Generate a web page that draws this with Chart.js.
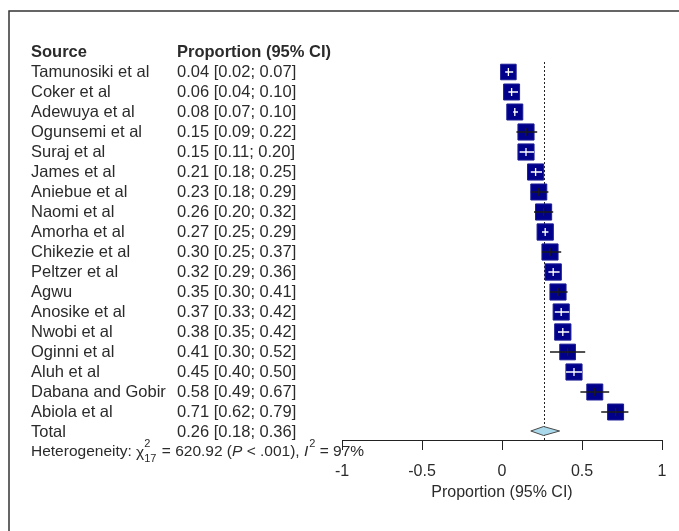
<!DOCTYPE html>
<html>
<head>
<meta charset="utf-8">
<title>Forest plot</title>
<script src="https://cdn.jsdelivr.net/npm/chart.js@4.4.0/dist/chart.umd.min.js"></script>
<style>
  html, body { margin: 0; padding: 0; background: #fff; }
  canvas { display: block; }
</style>
</head>
<body>
<canvas id="forest" width="679" height="531"></canvas>
<script>
// Study data
const studies = ["Tamunosiki et al", "Coker et al", "Adewuya et al", "Ogunsemi et al", "Suraj et al",
  "James et al", "Aniebue et al", "Naomi et al", "Amorha et al", "Chikezie et al", "Peltzer et al",
  "Agwu", "Anosike et al", "Nwobi et al", "Oginni et al", "Aluh et al", "Dabana and Gobir", "Abiola et al"];
const est   = [0.04, 0.06, 0.08, 0.15, 0.15, 0.21, 0.23, 0.26, 0.27, 0.30, 0.32, 0.35, 0.37, 0.38, 0.41, 0.45, 0.58, 0.71];
const lower = [0.02, 0.04, 0.07, 0.09, 0.11, 0.18, 0.18, 0.20, 0.25, 0.25, 0.29, 0.30, 0.33, 0.35, 0.30, 0.40, 0.49, 0.62];
const upper = [0.07, 0.10, 0.10, 0.22, 0.20, 0.25, 0.29, 0.32, 0.29, 0.37, 0.36, 0.41, 0.42, 0.42, 0.52, 0.50, 0.67, 0.79];
// approximate study weights (%), they only set the square size
const weights = [5.2, 5.5, 5.5, 5.6, 5.6, 5.6, 5.5, 5.6, 5.7, 5.6, 5.7, 5.6, 5.6, 5.7, 5.3, 5.6, 5.5, 5.5];

// pooled estimate [est, lower, upper]
const pooled = [0.26, 0.18, 0.36];
const hetChi2 = 620.92;
const hetDf = 17;
const hetP = "< .001";
const hetI2 = 97;

const xTicks = [-1, -0.5, 0, 0.5, 1];

const FONT = '"Liberation Sans", Arial, sans-serif';
const TEXT = "#2b2b2b";
const totalRow = studies.length;

function fmt(v) { return v.toFixed(2); }

const forestPlugin = {
  id: "forest",
  beforeDraw(chart) {
    const ctx = chart.ctx;
    ctx.save();
    ctx.fillStyle = "#fff";
    ctx.fillRect(0, 0, chart.width, chart.height);
    // frame, only top and left edges show in the picture
    ctx.strokeStyle = "#333";
    ctx.lineWidth = 1.5;
    ctx.beginPath();
    ctx.moveTo(chart.width, 11);
    ctx.lineTo(9, 11);
    ctx.lineTo(9, chart.height);
    ctx.stroke();
    ctx.restore();
  },
  beforeDatasetsDraw(chart) {
    const ctx = chart.ctx;
    const xs = chart.scales.x, area = chart.chartArea;
    const px = Math.round(xs.getPixelForValue(pooled[0])) + 0.5;
    ctx.save();
    ctx.strokeStyle = "#222";
    ctx.lineWidth = 1;
    ctx.setLineDash([2, 2]);
    ctx.beginPath();
    ctx.moveTo(px, area.top);
    ctx.lineTo(px, area.bottom);
    ctx.stroke();
    ctx.restore();
  },
  afterDatasetsDraw(chart) {
    const ctx = chart.ctx;
    const xs = chart.scales.x, ys = chart.scales.y;
    const meta = chart.getDatasetMeta(0);
    ctx.save();
    ctx.lineWidth = 1.3;
    est.forEach((v, i) => {
      const pt = meta.data[i];
      const half = pt.options.radius * Math.SQRT1_2;
      const x = xs.getPixelForValue(v), y = ys.getPixelForValue(i);
      const lo = xs.getPixelForValue(lower[i]), hi = xs.getPixelForValue(upper[i]);
      // CI inside the square is drawn white, otherwise black
      const inside = lo >= x - half && hi <= x + half;
      ctx.strokeStyle = inside ? "#fff" : "#1a1a1a";
      ctx.beginPath();
      ctx.moveTo(lo, y);
      ctx.lineTo(hi, y);
      ctx.moveTo(x, y - 4);
      ctx.lineTo(x, y + 4);
      ctx.stroke();
    });
    // pooled diamond
    const yT = ys.getPixelForValue(totalRow) - 1;
    ctx.fillStyle = "#a9d8ea";
    ctx.strokeStyle = "#4a4a4a";
    ctx.lineWidth = 1;
    ctx.beginPath();
    ctx.moveTo(xs.getPixelForValue(pooled[1]), yT);
    ctx.lineTo(xs.getPixelForValue(pooled[0]), yT - 4.5);
    ctx.lineTo(xs.getPixelForValue(pooled[2]), yT);
    ctx.lineTo(xs.getPixelForValue(pooled[0]), yT + 4.5);
    ctx.closePath();
    ctx.fill();
    ctx.stroke();
    ctx.restore();
  },
  afterDraw(chart) {
    const ctx = chart.ctx;
    const ys = chart.scales.y;
    const colA = 31, colB = 177;
    ctx.save();
    ctx.fillStyle = TEXT;
    ctx.textBaseline = "middle";
    ctx.textAlign = "left";

    ctx.font = "bold 16.5px " + FONT;
    const yh = ys.getPixelForValue(-1);
    ctx.fillText("Source", colA, yh);
    ctx.fillText("Proportion (95% CI)", colB, yh);

    ctx.font = "16.5px " + FONT;
    studies.forEach((s, i) => {
      const y = ys.getPixelForValue(i);
      ctx.fillText(s, colA, y);
      ctx.fillText(fmt(est[i]) + " [" + fmt(lower[i]) + "; " + fmt(upper[i]) + "]", colB, y);
    });
    const yt = ys.getPixelForValue(totalRow);
    ctx.fillText("Total", colA, yt);
    ctx.fillText(fmt(pooled[0]) + " [" + fmt(pooled[1]) + "; " + fmt(pooled[2]) + "]", colB, yt);

    // heterogeneity line
    const y = ys.getPixelForValue(totalRow + 1);
    let x = colA;
    const main = "15.5px " + FONT, ital = "italic 15.5px " + FONT, small = "11px " + FONT;
    function put(txt, font, dy) {
      ctx.font = font;
      ctx.fillText(txt, x, y + (dy || 0));
      return ctx.measureText(txt).width;
    }
    x += put("Heterogeneity: ", main);
    x += put("\u03c7", main, 1);
    const w1 = put("2", small, -8);
    const w2 = put(String(hetDf), small, 7);
    x += Math.max(w1, w2) + 1;
    x += put(" = " + hetChi2.toFixed(2) + " (", main);
    x += put("P", ital);
    x += put(" " + hetP + "), ", main);
    x += put("I", ital) + 1;
    x += put("2", small, -8);
    x += put(" = " + hetI2 + "%", main);
    ctx.restore();
  }
};

new Chart(document.getElementById("forest"), {
  type: "scatter",
  data: {
    datasets: [{
      label: "Studies",
      data: est.map((v, i) => ({ x: v, y: i })),
      pointStyle: "rect",
      pointRadius: weights.map(w => 11.4 * Math.sqrt(w / 5.6)),
      backgroundColor: "#00008b",
      borderColor: "#1c1c96",
      borderWidth: 1
    }]
  },
  options: {
    responsive: false,
    animation: false,
    events: [],
    clip: false,
    layout: { padding: { left: 342, right: 17, top: 62, bottom: 0 } },
    plugins: { legend: { display: false }, tooltip: { enabled: false } },
    scales: {
      x: {
        type: "linear",
        min: -1,
        max: 1,
        afterBuildTicks(axis) { axis.ticks = xTicks.map(v => ({ value: v })); },
        // fix the axis box so the plot area ends at y = 440
        afterFit(axis) { axis.height = 91; },
        ticks: {
          color: TEXT,
          padding: 12,
          font: { family: FONT, size: 16 },
          callback: v => String(v)
        },
        grid: { drawOnChartArea: false, drawTicks: true, tickLength: 10, color: "#222", lineWidth: 1 },
        border: { display: true, color: "#222", width: 1 },
        title: {
          display: true,
          text: "Proportion (95% CI)",
          color: TEXT,
          font: { family: FONT, size: 16 },
          padding: { top: 0, bottom: 29 }
        }
      },
      y: {
        type: "linear",
        display: false,
        reverse: true,
        min: -0.5,
        max: 18.4
      }
    }
  },
  plugins: [forestPlugin]
});
</script>
</body>
</html>
